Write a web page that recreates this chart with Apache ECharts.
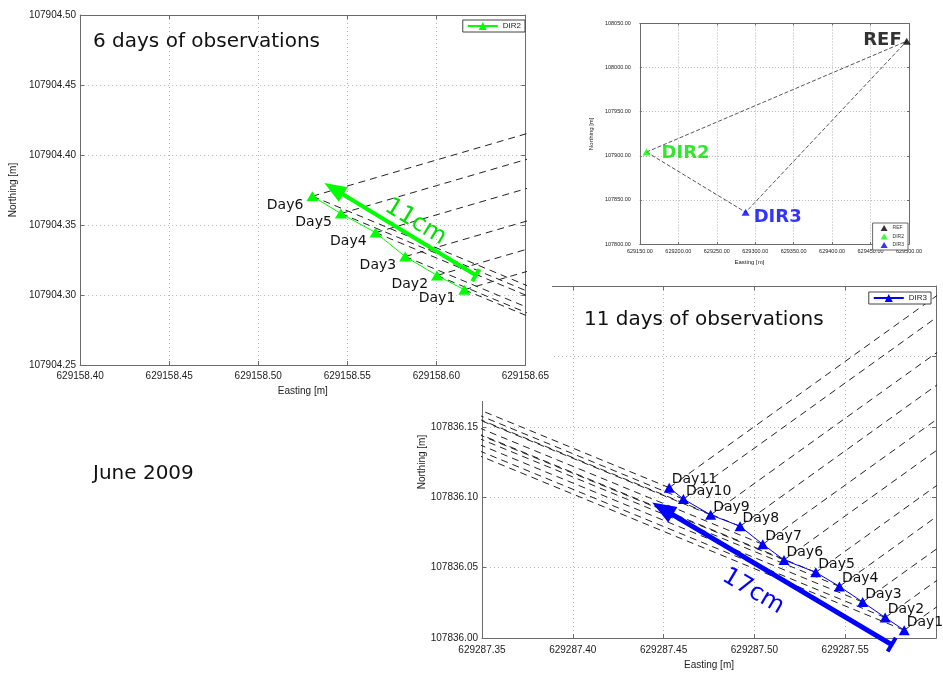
<!DOCTYPE html>
<html>
<head>
<meta charset="utf-8">
<script src="https://cdn.jsdelivr.net/npm/echarts@6/dist/echarts.min.js"></script>
<style>
html,body{margin:0;padding:0;background:#fff;width:943px;height:675px;overflow:hidden;}
#main{position:absolute;left:0;top:0;width:943px;height:675px;}
#dir2{position:absolute;left:0;top:0;width:552px;height:401px;background:#fff;}
#overview{position:absolute;left:580px;top:0;width:363px;height:270px;}
</style>
</head>
<body>
<div id="main"></div>
<div id="dir2"></div>
<div id="overview"></div>
<script>
// ---------------- data ----------------
const stationNames = ['REF', 'DIR2', 'DIR3'];
const stationEast  = [629497.0, 629158.57, 629287.52];
const stationNorth = [108030.0, 107904.34, 107836.06];

const dir2Days  = ['Day1', 'Day2', 'Day3', 'Day4', 'Day5', 'Day6'];
const dir2East  = [629158.6157, 629158.6004, 629158.5825, 629158.5659, 629158.5464, 629158.5304];
const dir2North = [107904.3038, 107904.3140, 107904.3275, 107904.3446, 107904.3582, 107904.3706];

const dir3Days  = ['Day1', 'Day2', 'Day3', 'Day4', 'Day5', 'Day6', 'Day7', 'Day8', 'Day9', 'Day10', 'Day11'];
const dir3East  = [629287.5825, 629287.5720, 629287.5596, 629287.5468, 629287.5338, 629287.5163,
                   629287.5046, 629287.4921, 629287.4759, 629287.4609, 629287.4531];
const dir3North = [107836.0056, 107836.0146, 107836.0256, 107836.0367, 107836.0467, 107836.0555,
                   107836.0666, 107836.0794, 107836.0875, 107836.0987, 107836.1068];

// displacement arrows: [tail, head]
const dir2ArrowEast  = [629158.6222, 629158.5424];
const dir2ArrowNorth = [107904.3142, 107904.3759];
const dir2ArrowText  = '11cm';
const dir3ArrowEast  = [629287.5756, 629287.4494];
const dir3ArrowNorth = [107835.9953, 107836.0920];
const dir3ArrowText  = '17cm';

// axis ranges / tick steps
const dir2EastRange  = [629158.40, 629158.65];
const dir2NorthRange = [107904.25, 107904.50];
const dir3EastRange  = [629287.35, 629287.60];
const dir3NorthRange = [107836.00, 107836.25];
const detailStep = 0.05;
const ovEastRange  = [629150, 629500];
const ovNorthRange = [107800, 108050];
const ovStep = 50;

const titleDir2 = '6 days of observations';
const titleDir3 = '11 days of observations';
const dateText = 'June 2009';

// ---------------- style ----------------
const FONT = 'DejaVu Sans';
const AXFONT = 'Liberation Sans';
const GREEN = '#00ff00';
const GREEN_TXT = '#00e000';
const BLUE = '#0000ff';
const AXIS_GRAY = '#6b6b6b';

function mAxis(range, step, o) {
  o = o || {};
  const lab = {
    show: !o.mirror, color: '#222', fontSize: o.labelSize || 10, fontFamily: AXFONT,
    margin: o.margin || 5, formatter: v => v.toFixed(2)
  };
  if (o.hideMax) lab.showMaxLabel = false;
  return {
    type: 'value', min: range[0], max: range[1], interval: step,
    position: o.position,
    name: o.name || '', nameLocation: 'middle', nameGap: o.nameGap || 0,
    nameTextStyle: Object.assign({fontFamily: AXFONT, fontSize: o.nameSize || 10, color: '#222'}, o.nameStyle || {}),
    axisLine: {show: true, onZero: false, lineStyle: {color: AXIS_GRAY, width: 1}},
    axisTick: {show: true, inside: true, length: o.tickLen || 4, lineStyle: {color: AXIS_GRAY}},
    axisLabel: lab,
    splitLine: {show: !o.mirror, lineStyle: {color: '#b4b4b4', width: 1, type: o.gridDash || [1, 3]}}
  };
}

function sightLines(east, north, targets) {
  const data = [];
  east.forEach((x, i) => targets.forEach(t => {
    data.push({coords: [[x, north[i]], [stationEast[t], stationNorth[t]]]});
  }));
  return {
    type: 'lines', coordinateSystem: 'cartesian2d', clip: true, silent: true, z: 1,
    symbol: 'none',
    lineStyle: {color: '#222', width: 1, type: [7, 5], opacity: 1, curveness: 0},
    data
  };
}

function daySeries(name, east, north, days, color, symbolSize, labelOpt) {
  return {
    name, type: 'line', data: east.map((x, i) => [x, north[i]]),
    symbol: 'triangle', symbolSize, showAllSymbol: true, z: 4,
    itemStyle: {color}, lineStyle: {color, width: 1},
    label: Object.assign({show: true, formatter: p => days[p.dataIndex], color: '#111',
      fontSize: 14, fontFamily: FONT}, labelOpt),
    emphasis: {disabled: true}
  };
}

function arrowSeries(east, north, color, width, barSize, headSize) {
  return {
    type: 'lines', coordinateSystem: 'cartesian2d', clip: false, silent: true, z: 5,
    symbol: ['rect', 'triangle'], symbolSize: [barSize, headSize],
    lineStyle: {color, width, opacity: 1, type: 'solid', curveness: 0},
    itemStyle: {color},
    data: [{coords: [[east[0], north[0]], [east[1], north[1]]]}]
  };
}

function arrowText(chart, east, north, text, color, perp, along) {
  const a = chart.convertToPixel({xAxisIndex: 0, yAxisIndex: 0}, [east[0], north[0]]);
  const b = chart.convertToPixel({xAxisIndex: 0, yAxisIndex: 0}, [east[1], north[1]]);
  let ux = a[0] - b[0], uy = a[1] - b[1];
  const L = Math.hypot(ux, uy); ux /= L; uy /= L;
  const nx = uy, ny = -ux;
  const mx = (a[0] + b[0]) / 2 + perp * nx + along * ux;
  const my = (a[1] + b[1]) / 2 + perp * ny + along * uy;
  return {
    type: 'text', x: mx, y: my, rotation: -Math.atan2(uy, ux), z: 10,
    style: {text, fill: color, font: '24px "DejaVu Sans"', align: 'center', verticalAlign: 'middle'}
  };
}

function bigText(x, y, text) {
  return {type: 'text', x, y, z: 10,
    style: {text, fill: '#111', font: '20px "DejaVu Sans"', align: 'left', verticalAlign: 'middle'}};
}

// ---------------- DIR3 (bottom, full page) ----------------
const mainChart = echarts.init(document.getElementById('main'));
mainChart.setOption({
  animation: false,
  backgroundColor: '#fff',
  grid: {left: 482, right: 7, top: 286, bottom: 30},
  xAxis: [
    mAxis(dir3EastRange, detailStep, {name: 'Easting [m]', nameGap: 17, margin: 7, hideMax: true, position: 'bottom'}),
    mAxis(dir3EastRange, detailStep, {mirror: true, position: 'top'})
  ],
  yAxis: [
    mAxis(dir3NorthRange, detailStep, {name: 'Northing [m]', nameGap: 55, margin: 4, position: 'left'}),
    mAxis(dir3NorthRange, detailStep, {mirror: true, position: 'right'})
  ],
  legend: {
    data: ['DIR3'], right: 12, top: 292, backgroundColor: '#fff', borderColor: '#444', borderWidth: 1,
    borderRadius: 0, padding: [2, 4, 2, 4], itemWidth: 30, itemHeight: 10,
    textStyle: {fontSize: 8, fontFamily: AXFONT, color: '#222'}
  },
  series: [
    sightLines(dir3East, dir3North, [0, 1]),
    daySeries('DIR3', dir3East, dir3North, dir3Days, BLUE, [11, 10],
      {position: 'right', distance: 0, offset: [-3, -8]}),
    arrowSeries(dir3ArrowEast, dir3ArrowNorth, BLUE, 5, [16, 4], [18, 24])
  ]
});
mainChart.setOption({
  graphic: [
    bigText(584, 320, titleDir3),
    bigText(93, 474, dateText),
    arrowText(mainChart, dir3ArrowEast, dir3ArrowNorth, dir3ArrowText, BLUE, -25, -13)
  ]
});

// ---------------- DIR2 (top left) ----------------
const dir2Chart = echarts.init(document.getElementById('dir2'));
dir2Chart.setOption({
  animation: false,
  backgroundColor: '#fff',
  grid: {left: 76, right: 24, top: 15, bottom: 28.3},
  xAxis: [
    mAxis(dir2EastRange, detailStep, {name: 'Easting [m]', nameGap: 15, margin: 6, position: 'bottom'}),
    mAxis(dir2EastRange, detailStep, {mirror: true, position: 'top'})
  ],
  yAxis: [
    mAxis(dir2NorthRange, detailStep, {name: 'Northing [m]', nameGap: 51, margin: 4, position: 'left'}),
    mAxis(dir2NorthRange, detailStep, {mirror: true, position: 'right'})
  ],
  legend: {
    data: ['DIR2'], right: 27, top: 20, backgroundColor: '#fff', borderColor: '#444', borderWidth: 1,
    borderRadius: 0, padding: [2, 4, 2, 4], itemWidth: 30, itemHeight: 10,
    textStyle: {fontSize: 8, fontFamily: AXFONT, color: '#222'}
  },
  series: [
    sightLines(dir2East, dir2North, [0, 2]),
    daySeries('DIR2', dir2East, dir2North, dir2Days, GREEN, [12, 10],
      {position: 'left', distance: 3, offset: [0, 9]}),
    arrowSeries(dir2ArrowEast, dir2ArrowNorth, GREEN, 4, [14, 4], [17, 22])
  ]
});
dir2Chart.setOption({
  graphic: [
    bigText(93, 42, titleDir2),
    arrowText(dir2Chart, dir2ArrowEast, dir2ArrowNorth, dir2ArrowText, GREEN_TXT, 14, 4)
  ]
});

// ---------------- overview (top right) ----------------
const ovChart = echarts.init(document.getElementById('overview'));
const outlineOrder = [1, 0, 2, 1];
const stationColors = ['#000000', GREEN, BLUE];
const stationLabelColors = ['#000000', GREEN_TXT, BLUE];
const stationLabelPos = [
  {position: 'left', distance: 1, offset: [0, -1]},
  {position: 'right', distance: 11, offset: [0, 1]},
  {position: 'right', distance: 4, offset: [0, 5]}
];
ovChart.setOption({
  animation: false,
  grid: {left: 45, right: 34, top: 23.5, bottom: 20},
  xAxis: [
    mAxis(ovEastRange, ovStep, {name: 'Easting [m]', nameGap: 11, nameSize: 6, labelSize: 5.5, margin: 4,
      tickLen: 2, gridDash: [1, 2], position: 'bottom', nameStyle: {padding: [0, 50, 0, 0]}}),
    mAxis(ovEastRange, ovStep, {mirror: true, position: 'top', tickLen: 2})
  ],
  yAxis: [
    mAxis(ovNorthRange, ovStep, {name: 'Northing [m]', nameGap: 37, nameSize: 6, labelSize: 5.5, margin: 9,
      tickLen: 2, gridDash: [1, 2], position: 'left'}),
    mAxis(ovNorthRange, ovStep, {mirror: true, position: 'right', tickLen: 2})
  ],
  legend: {
    data: stationNames, orient: 'vertical', right: 35, bottom: 20, icon: 'triangle',
    backgroundColor: '#fff', borderColor: '#444', borderWidth: 0.8, borderRadius: 0,
    padding: [2, 4, 2, 8], itemWidth: 7, itemHeight: 6, itemGap: 2.5,
    textStyle: {fontSize: 5, fontFamily: AXFONT, color: '#333'}
  },
  series: [
    {
      type: 'line', silent: true, z: 1, symbol: 'none',
      data: outlineOrder.map(i => [stationEast[i], stationNorth[i]]),
      lineStyle: {color: '#555', width: 1, type: [4, 2]}
    }
  ].concat(stationNames.map((n, i) => ({
    name: n, type: 'scatter', z: 3, symbol: 'triangle', symbolSize: [8, 7],
    itemStyle: {color: stationColors[i]},
    data: [[stationEast[i], stationNorth[i]]],
    label: Object.assign({show: true, formatter: n, color: stationLabelColors[i], fontSize: 18,
      fontWeight: 'bold', fontFamily: FONT}, stationLabelPos[i]),
    emphasis: {disabled: true}
  })))
});
</script>
</body>
</html>
